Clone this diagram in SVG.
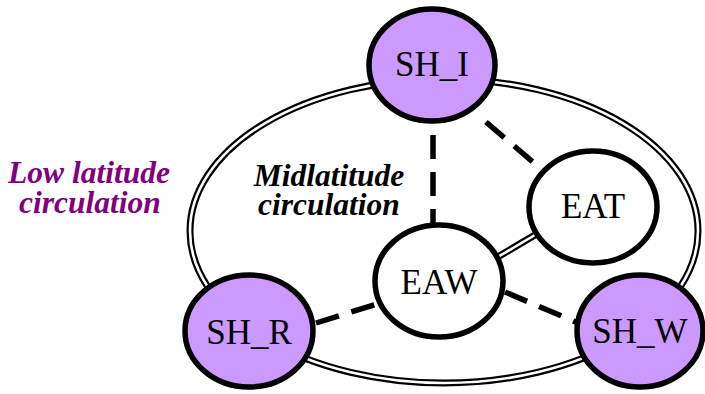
<svg xmlns="http://www.w3.org/2000/svg" width="705" height="394" viewBox="0 0 705 394">
<style>
.node{stroke:#000;stroke-width:5.5}
.p{fill:#cc99ff}
.w{fill:#fff}
.t{font-family:"Liberation Serif","Times New Roman",serif;font-size:35px;text-anchor:middle;fill:#000}
.lab{font-family:"Liberation Serif","Times New Roman",serif;font-size:31.5px;font-weight:bold;font-style:italic;text-anchor:middle}
.dash{stroke:#000;stroke-width:5.5;stroke-dasharray:24 13;fill:none}
.dblo{stroke:#000;stroke-width:7;fill:none}
.dbli{stroke:#fff;stroke-width:2.6;fill:none}
</style>
<rect width="705" height="394" fill="#fff"/>
<g id="connectors">
<ellipse class="dblo" cx="444" cy="231" rx="254" ry="152"/>
<ellipse class="dbli" cx="444" cy="231" rx="254" ry="152"/>
<line class="dblo" x1="496" y1="258" x2="540" y2="232"/>
<line class="dbli" x1="496" y1="258" x2="540" y2="232"/>
<line class="dash" x1="433" y1="135" x2="433" y2="225"/>
<line class="dash" x1="486" y1="122" x2="540" y2="168"/>
<line class="dash" x1="316" y1="323" x2="380" y2="303"/>
<line class="dash" x1="505" y1="292" x2="578" y2="323"/>
</g>
<text class="lab" x="89" y="183" fill="#800080">Low latitude</text>
<text class="lab" x="90" y="213" fill="#800080">circulation</text>
<text class="lab" x="329" y="186" fill="#000">Midlatitude</text>
<text class="lab" x="329" y="215" fill="#000">circulation</text>
<g id="SH_I"><ellipse class="node p" cx="432" cy="65" rx="63" ry="56"/><text class="t" x="432" y="76">SH_I</text></g>
<g id="EAT"><ellipse class="node w" cx="593" cy="207" rx="64" ry="56"/><text class="t" x="593" y="218">EAT</text></g>
<g id="EAW"><ellipse class="node w" cx="439" cy="281" rx="64" ry="56"/><text class="t" x="439" y="294">EAW</text></g>
<g id="SH_R"><ellipse class="node p" cx="249" cy="331" rx="64" ry="56"/><text class="t" x="249" y="344">SH_R</text></g>
<g id="SH_W"><ellipse class="node p" cx="640" cy="331" rx="63" ry="56"/><text class="t" x="640" y="343">SH_W</text></g>
</svg>
